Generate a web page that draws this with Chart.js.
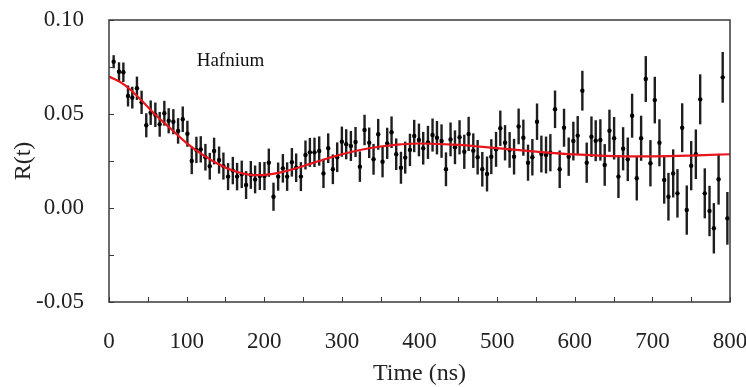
<!DOCTYPE html>
<html lang="en">
<head>
<meta charset="UTF-8" />
<title>Hafnium R(t)</title>
<script src="https://cdn.jsdelivr.net/npm/chart.js@4.4.0/dist/chart.umd.min.js"></script>
<style>
  html, body { margin: 0; background: #fff; }
  #wrap { width: 746px; height: 387px; }
</style>
</head>
<body>
<div id="wrap"><canvas id="chart" width="746" height="387"></canvas></div>
<script>
// measured points: time (ns), R(t), error
const times = [
  6, 12.9, 18.5, 24.5, 30, 36, 42, 48, 53.7, 59.7,
  65.3, 71.3, 76.9, 82.9, 89, 95, 101, 106.6, 112.6, 118.2,
  124.2, 129.8, 135.4, 141.8, 147.4, 153.4, 159.5, 165, 171, 176.6,
  182.7, 188.2, 194.3, 200.3, 205.9, 211.9, 217.9, 224, 229.5, 235.6,
  241.1, 247.2, 253.1, 258.8, 264.7, 270.8, 276.3, 282.4, 288.4, 294,
  300, 305.6, 311.6, 317.6, 323.2, 329.2, 335.2, 340.8, 346.8, 352.4,
  358.4, 364, 370, 376.1, 381.6, 387.7, 393.2, 399.3, 404.8, 410.9,
  416.8, 422.5, 428.4, 434.1, 440, 445.7, 451.6, 457.7, 463.3, 469.3,
  474.9, 480.9, 487, 492.5, 498.6, 504.1, 510.2, 516.1, 521.8, 527.7,
  533.8, 539.8, 545.4, 551.4, 557, 563, 568.6, 574.6, 580.6, 586.2,
  592.2, 598.2, 603.8, 609.8, 615.4, 621.5, 627, 633, 638.6, 644.7,
  650.7, 656.3, 662.3, 668.3, 673.9, 679.9, 685.5, 691.5, 697.5, 703.1,
  709.1, 715.2, 720.7, 726.8, 732.3, 738.4, 744.3, 750, 756, 761.6,
  767.5, 773.6, 779.2, 785.3, 790.6, 796.6
];
const rValues = [
  0.0778, 0.0725, 0.0722, 0.0596, 0.0587, 0.0637, 0.0562, 0.0440, 0.0507, 0.0496,
  0.0445, 0.0504, 0.0464, 0.0459, 0.0410, 0.0472, 0.0395, 0.0250, 0.0309, 0.0312,
  0.0270, 0.0222, 0.0303, 0.0255, 0.0223, 0.0167, 0.0199, 0.0167, 0.0179, 0.0122,
  0.0176, 0.0152, 0.0170, 0.0170, 0.0241, 0.0060, 0.0167, 0.0211, 0.0167, 0.0243,
  0.0214, 0.0167, 0.0282, 0.0296, 0.0296, 0.0303, 0.0184, 0.0318, 0.0206, 0.0270,
  0.0353, 0.0339, 0.0330, 0.0351, 0.0220, 0.0415, 0.0347, 0.0259, 0.0392, 0.0246,
  0.0344, 0.0403, 0.0286, 0.0214, 0.0268, 0.0309, 0.0383, 0.0362, 0.0318, 0.0349,
  0.0388, 0.0374, 0.0356, 0.0206, 0.0365, 0.0323, 0.0376, 0.0299, 0.0394, 0.0305,
  0.0270, 0.0206, 0.0181, 0.0273, 0.0312, 0.0424, 0.0347, 0.0309, 0.0273, 0.0434,
  0.0374, 0.0241, 0.0270, 0.0459, 0.0287, 0.0282, 0.0294, 0.0525, 0.0206, 0.0427,
  0.0273, 0.0356, 0.0385, 0.0624, 0.0241, 0.0379, 0.0358, 0.0362, 0.0229, 0.0411,
  0.0371, 0.0167, 0.0315, 0.0259, 0.0491, 0.0158, 0.0371, 0.0686, 0.0238, 0.0574,
  0.0347, 0.0149, 0.0060, 0.0184, 0.0078, 0.0427, -0.0011, 0.0225, 0.0286, 0.0578,
  0.0078, -0.0016, -0.0108, 0.0153, 0.0695, -0.0055
];
const rErrors = [
  0.0035, 0.0050, 0.0052, 0.0056, 0.0058, 0.0062, 0.0062, 0.0064, 0.0065, 0.0065,
  0.0066, 0.0066, 0.0067, 0.0067, 0.0068, 0.0068, 0.0069, 0.0070, 0.0070, 0.0070,
  0.0071, 0.0071, 0.0071, 0.0072, 0.0072, 0.0072, 0.0073, 0.0073, 0.0073, 0.0074,
  0.0074, 0.0074, 0.0074, 0.0075, 0.0075, 0.0075, 0.0075, 0.0076, 0.0076, 0.0076,
  0.0076, 0.0077, 0.0077, 0.0077, 0.0078, 0.0078, 0.0078, 0.0079, 0.0079, 0.0079,
  0.0080, 0.0080, 0.0080, 0.0080, 0.0081, 0.0081, 0.0081, 0.0082, 0.0082, 0.0083,
  0.0083, 0.0084, 0.0084, 0.0085, 0.0085, 0.0086, 0.0086, 0.0087, 0.0087, 0.0088,
  0.0088, 0.0089, 0.0089, 0.0090, 0.0090, 0.0090, 0.0091, 0.0091, 0.0091, 0.0092,
  0.0092, 0.0092, 0.0093, 0.0093, 0.0093, 0.0094, 0.0094, 0.0095, 0.0095, 0.0095,
  0.0096, 0.0096, 0.0097, 0.0097, 0.0098, 0.0098, 0.0099, 0.0100, 0.0100, 0.0101,
  0.0102, 0.0103, 0.0104, 0.0106, 0.0107, 0.0108, 0.0109, 0.0110, 0.0111, 0.0112,
  0.0113, 0.0114, 0.0115, 0.0116, 0.0117, 0.0118, 0.0120, 0.0122, 0.0123, 0.0124,
  0.0125, 0.0126, 0.0127, 0.0128, 0.0129, 0.0130, 0.0131, 0.0131, 0.0132, 0.0133,
  0.0133, 0.0134, 0.0134, 0.0135, 0.0135, 0.0140
];

// fitted curve
const fitT = [0, 20, 40, 60, 80, 100, 120, 140, 160, 180, 200, 220, 240, 260,
  280, 300, 325, 350, 375, 400, 450, 500, 550, 600, 650, 700, 750, 800];
const fitR = [0.070, 0.0655, 0.058, 0.0495, 0.042, 0.0345, 0.0285, 0.0235, 0.0198,
  0.0178, 0.0176, 0.0188, 0.021, 0.0236, 0.0262, 0.0286, 0.031, 0.0327, 0.0338,
  0.0343, 0.0336, 0.0318, 0.030, 0.0285, 0.0276, 0.0275, 0.0279, 0.0286];

const sampleName = 'Hafnium';
const serif = '"Liberation Serif", "Times New Roman", serif';
const frameColor = '#3a3a3a';

// error bars under the points
const errorBars = {
  id: 'errorBars',
  beforeDatasetsDraw(chart) {
    const { ctx, scales: { x, y } } = chart;
    ctx.save();
    ctx.setLineDash([]);
    ctx.strokeStyle = '#1e1e1e';
    ctx.lineWidth = 2.4;
    for (let i = 0; i < times.length; i++) {
      const px = x.getPixelForValue(times[i]);
      ctx.beginPath();
      ctx.moveTo(px, y.getPixelForValue(rValues[i] - rErrors[i]));
      ctx.lineTo(px, y.getPixelForValue(rValues[i] + rErrors[i]));
      ctx.stroke();
    }
    ctx.restore();
  }
};

// box around the plot, inward tick marks, sample label
const frame = {
  id: 'frame',
  afterDatasetsDraw(chart) {
    const { ctx, scales: { x, y } } = chart;
    const left = x.left, right = x.right, top = y.top, bottom = y.bottom;
    ctx.save();
    ctx.setLineDash([]);
    ctx.globalAlpha = 1;
    ctx.strokeStyle = frameColor;
    ctx.lineWidth = 1.5;
    ctx.beginPath();
    ctx.moveTo(left, top);
    ctx.lineTo(right, top);
    ctx.lineTo(right, bottom);
    ctx.lineTo(left, bottom);
    ctx.closePath();
    ctx.stroke();

    ctx.lineWidth = 1;
    ctx.beginPath();
    x.ticks.forEach((t) => {
      const px = Math.round(x.getPixelForValue(t.value)) + 0.5;
      ctx.moveTo(px, bottom);
      ctx.lineTo(px, bottom - 5);
    });
    y.ticks.forEach((t) => {
      const py = Math.round(y.getPixelForValue(t.value)) + 0.5;
      ctx.moveTo(left, py);
      ctx.lineTo(left + 5, py);
    });
    ctx.stroke();

    ctx.fillStyle = '#111';
    ctx.font = '19px ' + serif;
    ctx.textBaseline = 'middle';
    ctx.fillText(sampleName, x.getPixelForValue(113), y.getPixelForValue(0.078));
    ctx.restore();
  }
};

const config = {
  type: 'scatter',
  data: {
    datasets: [
      {
        label: 'fit',
        data: fitT.map((t, i) => ({ x: t, y: fitR[i] })),
        showLine: true,
        borderColor: '#e8161c',
        borderWidth: 2.2,
        pointRadius: 0,
        tension: 0.4
      },
      {
        label: sampleName,
        data: times.map((t, i) => ({ x: t, y: rValues[i] })),
        pointRadius: 2.2,
        pointBackgroundColor: '#000',
        pointBorderWidth: 0
      }
    ]
  },
  options: {
    responsive: false,
    animation: false,
    layout: { padding: { top: 20, right: 16, left: 0, bottom: 0 } },
    plugins: { legend: { display: false }, tooltip: { enabled: false } },
    scales: {
      x: {
        type: 'linear',
        min: 0,
        max: 800,
        grid: { display: false },
        border: { display: false },
        ticks: {
          stepSize: 50,
          autoSkip: false,
          maxRotation: 0,
          padding: 18,
          color: '#222',
          font: { family: serif, size: 23 },
          callback: (v) => (v % 100 === 0 ? String(v) : '')
        },
        title: {
          display: true,
          text: 'Time (ns)',
          color: '#222',
          font: { family: serif, size: 24, lineHeight: 1 },
          padding: { top: 0, bottom: 1 }
        },
        afterFit: (s) => { s.height = 85; s.paddingLeft = 0; s.paddingRight = 0; }
      },
      y: {
        min: -0.05,
        max: 0.10,
        grid: { display: false },
        border: { display: false },
        ticks: {
          stepSize: 0.025,
          autoSkip: false,
          padding: 17,
          color: '#222',
          font: { family: serif, size: 23 },
          callback: (v) => (Math.round(v * 1000) % 50 === 0 ? v.toFixed(2) : '')
        },
        title: {
          display: true,
          text: 'R(t)',
          color: '#222',
          font: { family: serif, size: 24, lineHeight: 1.2 },
          padding: { top: 9, bottom: 0 }
        },
        afterFit: (s) => { s.width = 109; s.paddingTop = 0; s.paddingBottom = 0; }
      }
    }
  },
  plugins: [errorBars, frame]
};

const chart = new Chart(document.getElementById('chart'), config);
</script>
</body>
</html>
